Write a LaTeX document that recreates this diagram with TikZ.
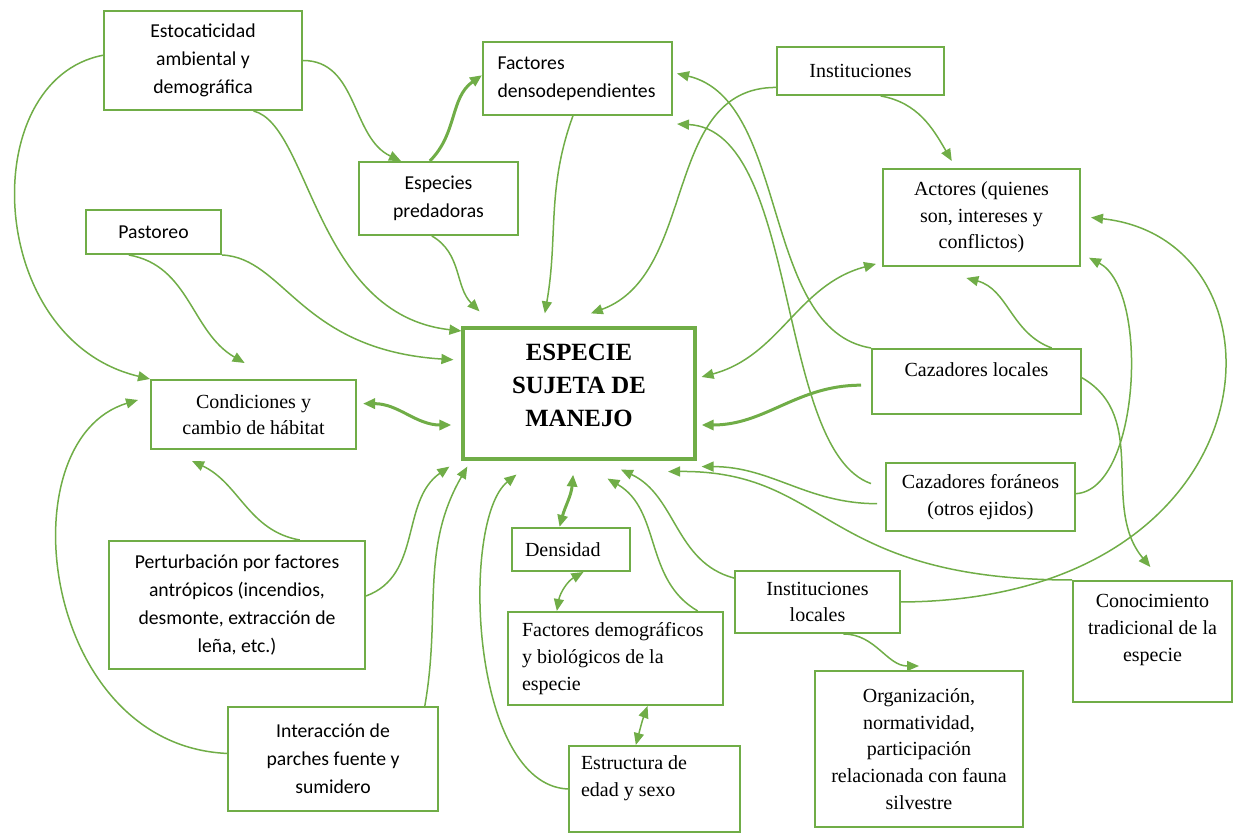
\documentclass[tikz,border=0pt]{standalone}
\usepackage{fontspec}
\setmainfont{Liberation Serif}
\newfontfamily\calibri{Carlito}
\usetikzlibrary{arrows.meta}
\definecolor{verde}{RGB}{112,173,71}

\begin{document}
\begin{tikzpicture}[x=0.5pt,y=-0.5pt]
	% Estilos
	\tikzstyle{caja}=[draw=verde,line width=1pt,inner sep=0pt,align=center,font=\fontsize{10}{13.3}\selectfont]
	\tikzstyle{cajacal}=[caja,font=\calibri\fontsize{9.85}{14}\selectfont]
	\tikzstyle{principal}=[caja,line width=1.6pt]
	\tikzstyle{texto}=[inner sep=0pt,align=center,font=\fontsize{10}{13.3}\selectfont]
	\tikzstyle{flecha}=[->,>={Triangle[length=6pt,width=5pt]},draw=verde,line width=0.75pt]
	\tikzstyle{flechagruesa}=[flecha,line width=1.5pt]
	\useasboundingbox (0,0) rectangle (1233,833);
	% Cajas
	\node[cajacal,minimum width=99pt,minimum height=49.5pt] (Est) at (203,60.5) {Estocaticidad\\ambiental y\\demográfica};
	\node[cajacal,minimum width=94.5pt,minimum height=36.5pt,text width=80pt,align=flush left] (Fd) at (577.5,78.5) {Factores\\densodependientes};
	\node[caja,minimum width=83.5pt,minimum height=24pt] (Ins) at (860.5,71) {Instituciones};
	\node[cajacal,minimum width=79.5pt,minimum height=36.5pt] (Ep) at (438.5,198.5) {Especies\\predadoras};
	\node[cajacal,minimum width=67.5pt,minimum height=22pt] (Pa) at (153.5,232) {Pastoreo};
	\node[caja,minimum width=98.5pt,minimum height=48.5pt] (Ac) at (981.5,217.5) {Actores (quienes\\son, intereses y\\conflictos)};
	\node[principal,minimum width=116pt,minimum height=65.5pt] (Esp) at (579,393.5) {};
	\node[texto,font=\bfseries\fontsize{12.4}{16.5}\selectfont] (EspT) at ([yshift=4.25pt]Esp.center) {ESPECIE\\SUJETA DE\\MANEJO};
	\node[caja,minimum width=102.5pt,minimum height=34.5pt] (Co) at (253.5,414.5) {Condiciones y\\cambio de hábitat};
	\node[caja,minimum width=104.5pt,minimum height=32.5pt] (Cl) at (976.5,381.5) {};
	\node[texto] (ClT) at ([yshift=5.75pt]Cl.center) {Cazadores locales};
	\node[caja,minimum width=94.5pt,minimum height=34pt] (Cf) at (980.5,497) {Cazadores foráneos\\(otros ejidos)};
	\node[caja,minimum width=59pt,minimum height=21.5pt,text width=46pt,align=flush left] (De) at (571,549.5) {Densidad};
	\node[cajacal,minimum width=128pt,minimum height=64pt] (Pe) at (237,605) {Perturbación por factores\\antrópicos (incendios,\\desmonte, extracción de\\leña, etc.)};
	\node[caja,minimum width=107.5pt,minimum height=46.5pt,text width=93.5pt,align=flush left] (Fdb) at (615.5,658.5) {Factores demográficos\\y biológicos de la\\especie};
	\node[caja,minimum width=82.5pt,minimum height=31pt] (Il) at (817.5,602) {Instituciones\\locales};
	\node[caja,minimum width=79.5pt,minimum height=60.5pt] (Cn) at (1152.5,641.5) {};
	\node[texto] (CnT) at ([yshift=5.75pt]Cn.center) {Conocimiento\\tradicional de la\\especie};
	\node[caja,minimum width=104pt,minimum height=78pt] (Or) at (919,749) {Organización,\\normatividad,\\participación\\relacionada con fauna\\silvestre};
	\node[cajacal,minimum width=105pt,minimum height=52pt] (In) at (333,759) {Interacción de\\parches fuente y\\sumidero};
	\node[caja,minimum width=85.5pt,minimum height=43pt] (Eu) at (654.5,789) {};
	\node[texto,text width=73.5pt,align=flush left] (EuT) at ([yshift=5.5pt]Eu.center) {Estructura de\\edad y sexo};
	% Flechas
	\draw[flecha] (Est.177) .. controls (-25,80) and (-15,340) .. (Co.north west);
	\draw[flecha] (Est.east) to[out=0,in=155] (Ep.135);
	\draw[flecha] (Est.-45) .. controls (310,125) and (315,315) .. (Esp.152);
	\draw[flechagruesa] (Ep.103) to[out=45,in=215] (Fd.178);
	\draw[flecha] (Ep.260) to[out=-30,in=135] ([yshift=7.5pt]Esp.146);
	\draw[flecha] (Fd.-97) to[out=-110,in=80] ([yshift=6.5pt]Esp.117);
	\draw[flecha] (Ins.191) to[out=180,in=20] ([yshift=6.5pt]Esp.80);
	\draw[flecha] (Ins.-51) to[out=-10,in=120] ([yshift=3.5pt]Ac.121);
	\draw[flecha] (Pa.223) to[out=-10,in=150] ([yshift=8pt]Co.104);
	\draw[flecha] (Pa.south east) .. controls (285,258) and (300,350) .. ([xshift=-4pt]Esp.164);
	\draw[flechagruesa,<->] ([xshift=3pt]Co.6) to[out=0,in=180] ([xshift=-5pt]Esp.195);
	\draw[flecha] (Pe.46) to[out=170,in=-25] ([yshift=-5.5pt]Co.210);
	\draw[flecha] (Pe.4) to[out=20,in=215] ([xshift=-6pt,yshift=-3pt]Esp.south west);
	\draw[flecha] (In.177) .. controls (40,745) and (5,440) .. ([xshift=-6pt]Co.172);
	\draw[flecha] (In.30) to[out=80,in=240] ([yshift=-3pt]Esp.211);
	\draw[flecha] (Eu.west) .. controls (470,785) and (460,520) .. ([yshift=-7pt]Esp.227);
	\draw[flechagruesa,<->] ([yshift=-7pt]Esp.265) to[out=-95,in=75] (De.117);
	\draw[flecha,<->] (De.-61) to[out=210,in=80] (Fdb.141);
	\draw[flecha,<->] (Fdb.-56) to[out=-110,in=75] (Eu.113);
	\draw[flecha] (Fdb.30) to[out=150,in=-30] ([yshift=-9pt]Esp.293);
	\draw[flecha] (Il.164) to[out=165,in=-25] ([yshift=-4.5pt]Esp.302);
	\draw[flecha] (Il.-51) to[out=0,in=180] ([yshift=2pt]Or.north);
	\draw[flecha] (Il.east) .. controls (1280,600) and (1300,240) .. ([xshift=5pt]Ac.east);
	\draw[flecha] (Cl.24) to[out=160,in=-15] ([yshift=-5.5pt]Ac.-107);
	\draw[flechagruesa] ([xshift=-5pt]Cl.182) to[out=180,in=0] ([xshift=2.5pt]Esp.-15);
	\draw[flecha] (Cl.north west) .. controls (760,330) and (790,100) .. ([xshift=2pt]Fd.3);
	\draw[flecha] (Cl.2) to[out=-30,in=130] ([yshift=6.5pt]Cn.92);
	\draw[flecha] ([xshift=-7pt]Cf.172) .. controls (775,450) and (800,130) .. ([xshift=2pt,yshift=-4pt]Fd.south east);
	\draw[flecha] ([xshift=-4pt]Cf.184) to[out=180,in=0] ([xshift=2.5pt,yshift=-3pt]Esp.south east);
	\draw[flecha] (Cf.2) .. controls (1140,490) and (1150,290) .. ([xshift=4pt]Ac.-22);
	\draw[flecha] (Cn.north west) .. controls (820,580) and (830,470) .. ([yshift=-5.5pt]Esp.323);
	\draw[flecha,<->] ([xshift=2.5pt]Esp.8) to[out=15,in=195] ([xshift=-3pt]Ac.205);
\end{tikzpicture}
\end{document}
